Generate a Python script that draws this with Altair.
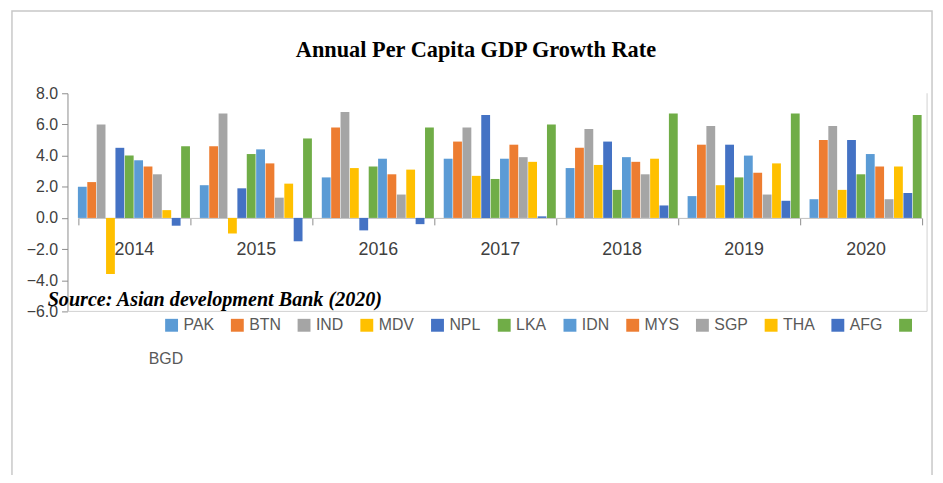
import altair as alt
import pandas as pd

years = ["2014", "2015", "2016", "2017", "2018", "2019", "2020"]
countries = ["PAK", "BTN", "IND", "MDV", "NPL", "LKA", "IDN", "MYS", "SGP", "THA", "AFG", "BGD"]
colors = ["#5B9BD5", "#ED7D31", "#A5A5A5", "#FFC000", "#4472C4", "#70AD47",
          "#5B9BD5", "#ED7D31", "#A5A5A5", "#FFC000", "#4472C4", "#70AD47"]

PAK = [2.0, 2.1, 2.6, 3.8, 3.2, 1.4, 1.2]
BTN = [2.3, 4.6, 5.8, 4.9, 4.5, 4.7, 5.0]
IND = [6.0, 6.7, 6.8, 5.8, 5.7, 5.9, 5.9]
MDV = [-3.6, -1.0, 3.2, 2.7, 3.4, 2.1, 1.8]
NPL = [4.5, 1.9, -0.8, 6.6, 4.9, 4.7, 5.0]
LKA = [4.0, 4.1, 3.3, 2.5, 1.8, 2.6, 2.8]
IDN = [3.7, 4.4, 3.8, 3.8, 3.9, 4.0, 4.1]
MYS = [3.3, 3.5, 2.8, 4.7, 3.6, 2.9, 3.3]
SGP = [2.8, 1.3, 1.5, 3.9, 2.8, 1.5, 1.2]
THA = [0.5, 2.2, 3.1, 3.6, 3.8, 3.5, 3.3]
AFG = [-0.5, -1.5, -0.4, 0.1, 0.8, 1.1, 1.6]
BGD = [4.6, 5.1, 5.8, 6.0, 6.7, 6.7, 6.6]

series = [PAK, BTN, IND, MDV, NPL, LKA, IDN, MYS, SGP, THA, AFG, BGD]
rows = []
for c, vals in zip(countries, series):
    for y, v in zip(years, vals):
        rows.append({"year": y, "country": c, "value": v})
df = pd.DataFrame(rows)

W, H = 867, 220
YMIN, YMAX = -6, 8
sans = "Liberation Sans"
serif = "Liberation Serif"

yscale = alt.Scale(domain=[YMIN, YMAX], nice=False, zero=False)

bars = alt.Chart(df).mark_bar().encode(
    x=alt.X("year:N", sort=years,
            scale=alt.Scale(range=[10.5, 861.5], paddingInner=0.081, paddingOuter=0),
            axis=alt.Axis(title=None, labelAngle=0, offset=-(H * (0 - YMIN) / (YMAX - YMIN)),
                          tickBand="extent", domainColor="#bfbfbf", tickColor="#8c8c8c",
                          tickSize=7, labelPadding=16, labelFont=sans, labelFontSize=18,
                          labelColor="#404040")),
    xOffset=alt.XOffset("country:N", sort=countries,
                        scale=alt.Scale(paddingInner=0.06, paddingOuter=0)),
    y=alt.Y("value:Q", scale=yscale,
            axis=alt.Axis(title=None, values=list(range(YMIN, YMAX + 1, 2)), format=".1f",
                          grid=False, labelFont=sans, labelFontSize=16, labelColor="#404040",
                          tickColor="#8c8c8c", domainColor="#8c8c8c", tickSize=6,
                          labelPadding=4, labelOverlap=False, labelBound=False,
                          labelFlush=False)),
    color=alt.Color("country:N", sort=countries,
                    scale=alt.Scale(domain=countries, range=colors),
                    legend=alt.Legend(title=None, orient="none", legendX=97, legendY=226,
                                      direction="horizontal", columns=12,
                                      symbolType="square", symbolSize=169,
                                      symbolStrokeWidth=0, labelFont=sans,
                                      labelFontSize=16, labelColor="#595959",
                                      columnPadding=15.3, labelOffset=4, padding=0,
                                      labelExpr="datum.label == 'BGD' ? '' : datum.label")),
)

frame = alt.Chart(pd.DataFrame({"v": [0]}))
bottom_rule = frame.mark_rule(color="#d0d0d0").encode(
    y=alt.value(H), x=alt.value(0), x2=alt.value(W))
right_rule = frame.mark_rule(color="#d0d0d0").encode(
    x=alt.value(W), y=alt.value(0), y2=alt.value(H))

border = frame.mark_rect(fill=None, stroke="#c8c8c8", strokeWidth=1.5).encode(
    x=alt.value(-56), x2=alt.value(872), y=alt.value(-83), y2=alt.value(500))

title = alt.Chart(pd.DataFrame({"t": ["Annual Per Capita GDP Growth Rate"]})).mark_text(
    font=serif, fontSize=22.5, fontWeight="bold", color="#000000", align="center", baseline="middle"
).encode(x=alt.value(412), y=alt.value(-44), text="t:N")

source = alt.Chart(pd.DataFrame({"t": ["Source: Asian development Bank (2020)"]})).mark_text(
    font=serif, fontSize=20.3, fontWeight="bold", fontStyle="italic", color="#000000",
    align="left", baseline="middle"
).encode(x=alt.value(-20), y=alt.value(209), text="t:N")

bgd = alt.Chart(pd.DataFrame({"t": ["BGD"]})).mark_text(
    font=sans, fontSize=16, color="#595959", align="left", baseline="middle"
).encode(x=alt.value(82), y=alt.value(268), text="t:N")

chart = alt.layer(bars, border, bottom_rule, right_rule, title, source, bgd).properties(
    width=W, height=H,
    background="white",
    autosize=alt.AutoSizeParams(type="none"),
    padding={"left": 60, "top": 84, "right": 8, "bottom": 163},
).configure_view(stroke="transparent", strokeWidth=0)

chart.save("out.html", embed_options={"renderer": "svg", "actions": False})
